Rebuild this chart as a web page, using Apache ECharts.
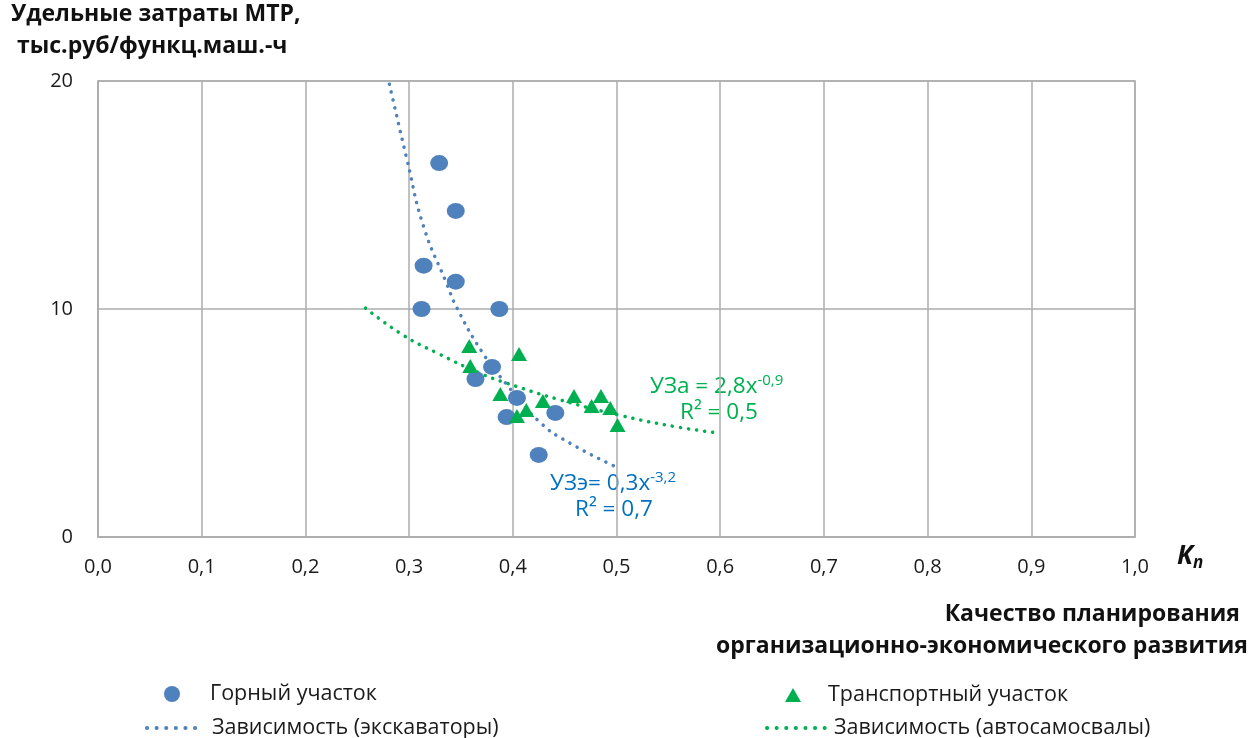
<!DOCTYPE html>
<html><head><meta charset="utf-8">
<script src="https://cdn.jsdelivr.net/npm/echarts@6/dist/echarts.min.js"></script>
<style>html,body{margin:0;padding:0;background:#fff}#c{width:1250px;height:738px}</style>
</head><body><div id="c"></div>
<script>
// Горный участок (экскаваторы)
const miningX = [0.329, 0.345, 0.314, 0.345, 0.312, 0.387, 0.380, 0.364, 0.404, 0.394, 0.441, 0.425];
const miningY = [16.4, 14.3, 11.9, 11.2, 10.0, 10.0, 7.46, 6.93, 6.10, 5.26, 5.44, 3.60];
// Транспортный участок (автосамосвалы)
const transportX = [0.358, 0.406, 0.359, 0.388, 0.429, 0.459, 0.485, 0.476, 0.494, 0.501, 0.404, 0.413];
const transportY = [8.38, 8.03, 7.50, 6.27, 5.96, 6.18, 6.18, 5.75, 5.66, 4.91, 5.31, 5.57];
// Trend curves
const excavTrendX = [0.281, 0.298, 0.314, 0.336, 0.346, 0.371, 0.393, 0.426, 0.455, 0.500];
const excavTrendY = [19.86, 16.54, 13.61, 11.14, 10.06, 8.07, 6.75, 5.04, 4.12, 3.07];
const truckTrendX = [0.258, 0.294, 0.327, 0.368, 0.394, 0.446, 0.506, 0.559, 0.600];
const truckTrendY = [10.04, 8.86, 8.07, 7.19, 6.75, 6.01, 5.31, 4.82, 4.56];
const seriesNames = ['Горный участок', 'Транспортный участок', 'Зависимость (экскаваторы)', 'Зависимость (автосамосвалы)'];
const yTicks = [0, 10, 20];
const xTicks = [0, 0.1, 0.2, 0.3, 0.4, 0.5, 0.6, 0.7, 0.8, 0.9, 1.0];

const BLUE = '#4F81BD', GREEN = '#00B050', GRID = '#ADADAD';
const FONT = 'Open Sans';
const zip = (xs, ys) => xs.map((x, i) => [x, ys[i]]);
const dotted = c => ({ color: c, width: 3.5, type: [0.1, 8], cap: 'round' });

const chart = echarts.init(document.getElementById('c'), null, { renderer: 'canvas' });
const legTxt = pad => ({ fontFamily: FONT, fontSize: 21.5, color: '#1a1a1a', padding: [0, 0, 0, pad] });
const legLine = { width: 4, type: [0.1, 9.5], cap: 'round' };
chart.setOption({
  animation: false,
  textStyle: { fontFamily: FONT },
  grid: { left: 98, right: 115, top: 81, bottom: 201, show: true, borderColor: GRID, borderWidth: 1.5 },
  xAxis: {
    type: 'value', min: xTicks[0], max: xTicks[xTicks.length - 1], interval: 0.1,
    axisLine: { show: true, lineStyle: { color: GRID, width: 1.5 } },
    axisTick: { show: false },
    splitLine: { show: true, lineStyle: { color: GRID, width: 1.5 } },
    axisLabel: { margin: 20, fontSize: 20, color: '#1a1a1a', fontFamily: FONT, formatter: v => v.toFixed(1).replace('.', ',') }
  },
  yAxis: {
    type: 'value', min: yTicks[0], max: yTicks[yTicks.length - 1], interval: 10,
    axisLine: { show: true, lineStyle: { color: GRID, width: 1.5 } },
    axisTick: { show: false },
    splitLine: { show: true, lineStyle: { color: GRID, width: 1.5 } },
    axisLabel: { margin: 25, fontSize: 20, color: '#1a1a1a', fontFamily: FONT }
  },
  legend: [
    { data: [seriesNames[0]], left: 159, top: 678, itemWidth: 18, itemHeight: 16, selectedMode: false, itemStyle: { opacity: 1 }, textStyle: legTxt(24) },
    { data: [seriesNames[2]], left: 140, top: 712, itemWidth: 57, itemHeight: 20, selectedMode: false, itemStyle: { opacity: 0 }, lineStyle: legLine, textStyle: legTxt(3) },
    { data: [seriesNames[1]], left: 780, top: 679, itemWidth: 16, itemHeight: 14, selectedMode: false, itemStyle: { opacity: 1 }, textStyle: legTxt(22) },
    { data: [seriesNames[3]], left: 760, top: 712, itemWidth: 58, itemHeight: 20, selectedMode: false, itemStyle: { opacity: 0 }, lineStyle: legLine, textStyle: legTxt(4) }
  ],
  series: [
    { name: seriesNames[2], type: 'line', data: zip(excavTrendX, excavTrendY), smooth: 0.5, symbol: 'none', lineStyle: dotted(BLUE), itemStyle: { color: BLUE }, z: 2 },
    { name: seriesNames[3], type: 'line', data: zip(truckTrendX, truckTrendY), smooth: 0.5, symbol: 'none', lineStyle: dotted(GREEN), itemStyle: { color: GREEN }, z: 2 },
    { name: seriesNames[0], type: 'scatter', data: zip(miningX, miningY), symbol: 'circle', symbolSize: [18, 16], itemStyle: { color: BLUE, opacity: 1 }, z: 3 },
    { name: seriesNames[1], type: 'scatter', data: zip(transportX, transportY), symbol: 'triangle', symbolSize: [16, 14], itemStyle: { color: GREEN, opacity: 1 }, z: 4 }
  ],
  graphic: [
    { type: 'text', left: 11, top: 3, style: { text: 'Удельные затраты МТР,', font: 'bold 23px "Open Sans"', fill: '#111' } },
    { type: 'text', left: 17, top: 35, style: { text: 'тыс.руб/функц.маш.-ч', font: 'bold 23px "Open Sans"', fill: '#111' } },
    { type: 'text', left: 1177, top: 544, style: { text: '{k|K}{s|п}', rich: { k: { font: 'italic bold 26px "Open Sans"', fill: '#111' }, s: { font: 'italic bold 17px "Open Sans"', fill: '#111', padding: [12, 0, 0, 0] } } } },
    { type: 'text', right: 10, top: 603, style: { text: 'Качество планирования', font: 'bold 23px "Open Sans"', fill: '#111', align: 'right' } },
    { type: 'text', right: 2, top: 635, style: { text: 'организационно-экономического развития', font: 'bold 23px "Open Sans"', fill: '#111', align: 'right' } },
    { type: 'text', left: 550, top: 470, style: { text: '{a|УЗэ= 0,3x}{b|-3,2}', rich: { a: { font: '22.5px "Open Sans"', fill: '#0070C0' }, b: { font: '15px "Open Sans"', fill: '#0070C0', padding: [0, 0, 13, 0] } } } },
    { type: 'text', left: 575, top: 498, style: { text: 'R² = 0,7', font: '22.5px "Open Sans"', fill: '#0070C0' } },
    { type: 'text', left: 650, top: 373, style: { text: '{a|УЗа = 2,8x}{b|-0,9}', rich: { a: { font: '22.5px "Open Sans"', fill: GREEN }, b: { font: '15px "Open Sans"', fill: GREEN, padding: [0, 0, 13, 0] } } } },
    { type: 'text', left: 680, top: 401, style: { text: 'R² = 0,5', font: '22.5px "Open Sans"', fill: GREEN } }
  ]
});
</script></body></html>
